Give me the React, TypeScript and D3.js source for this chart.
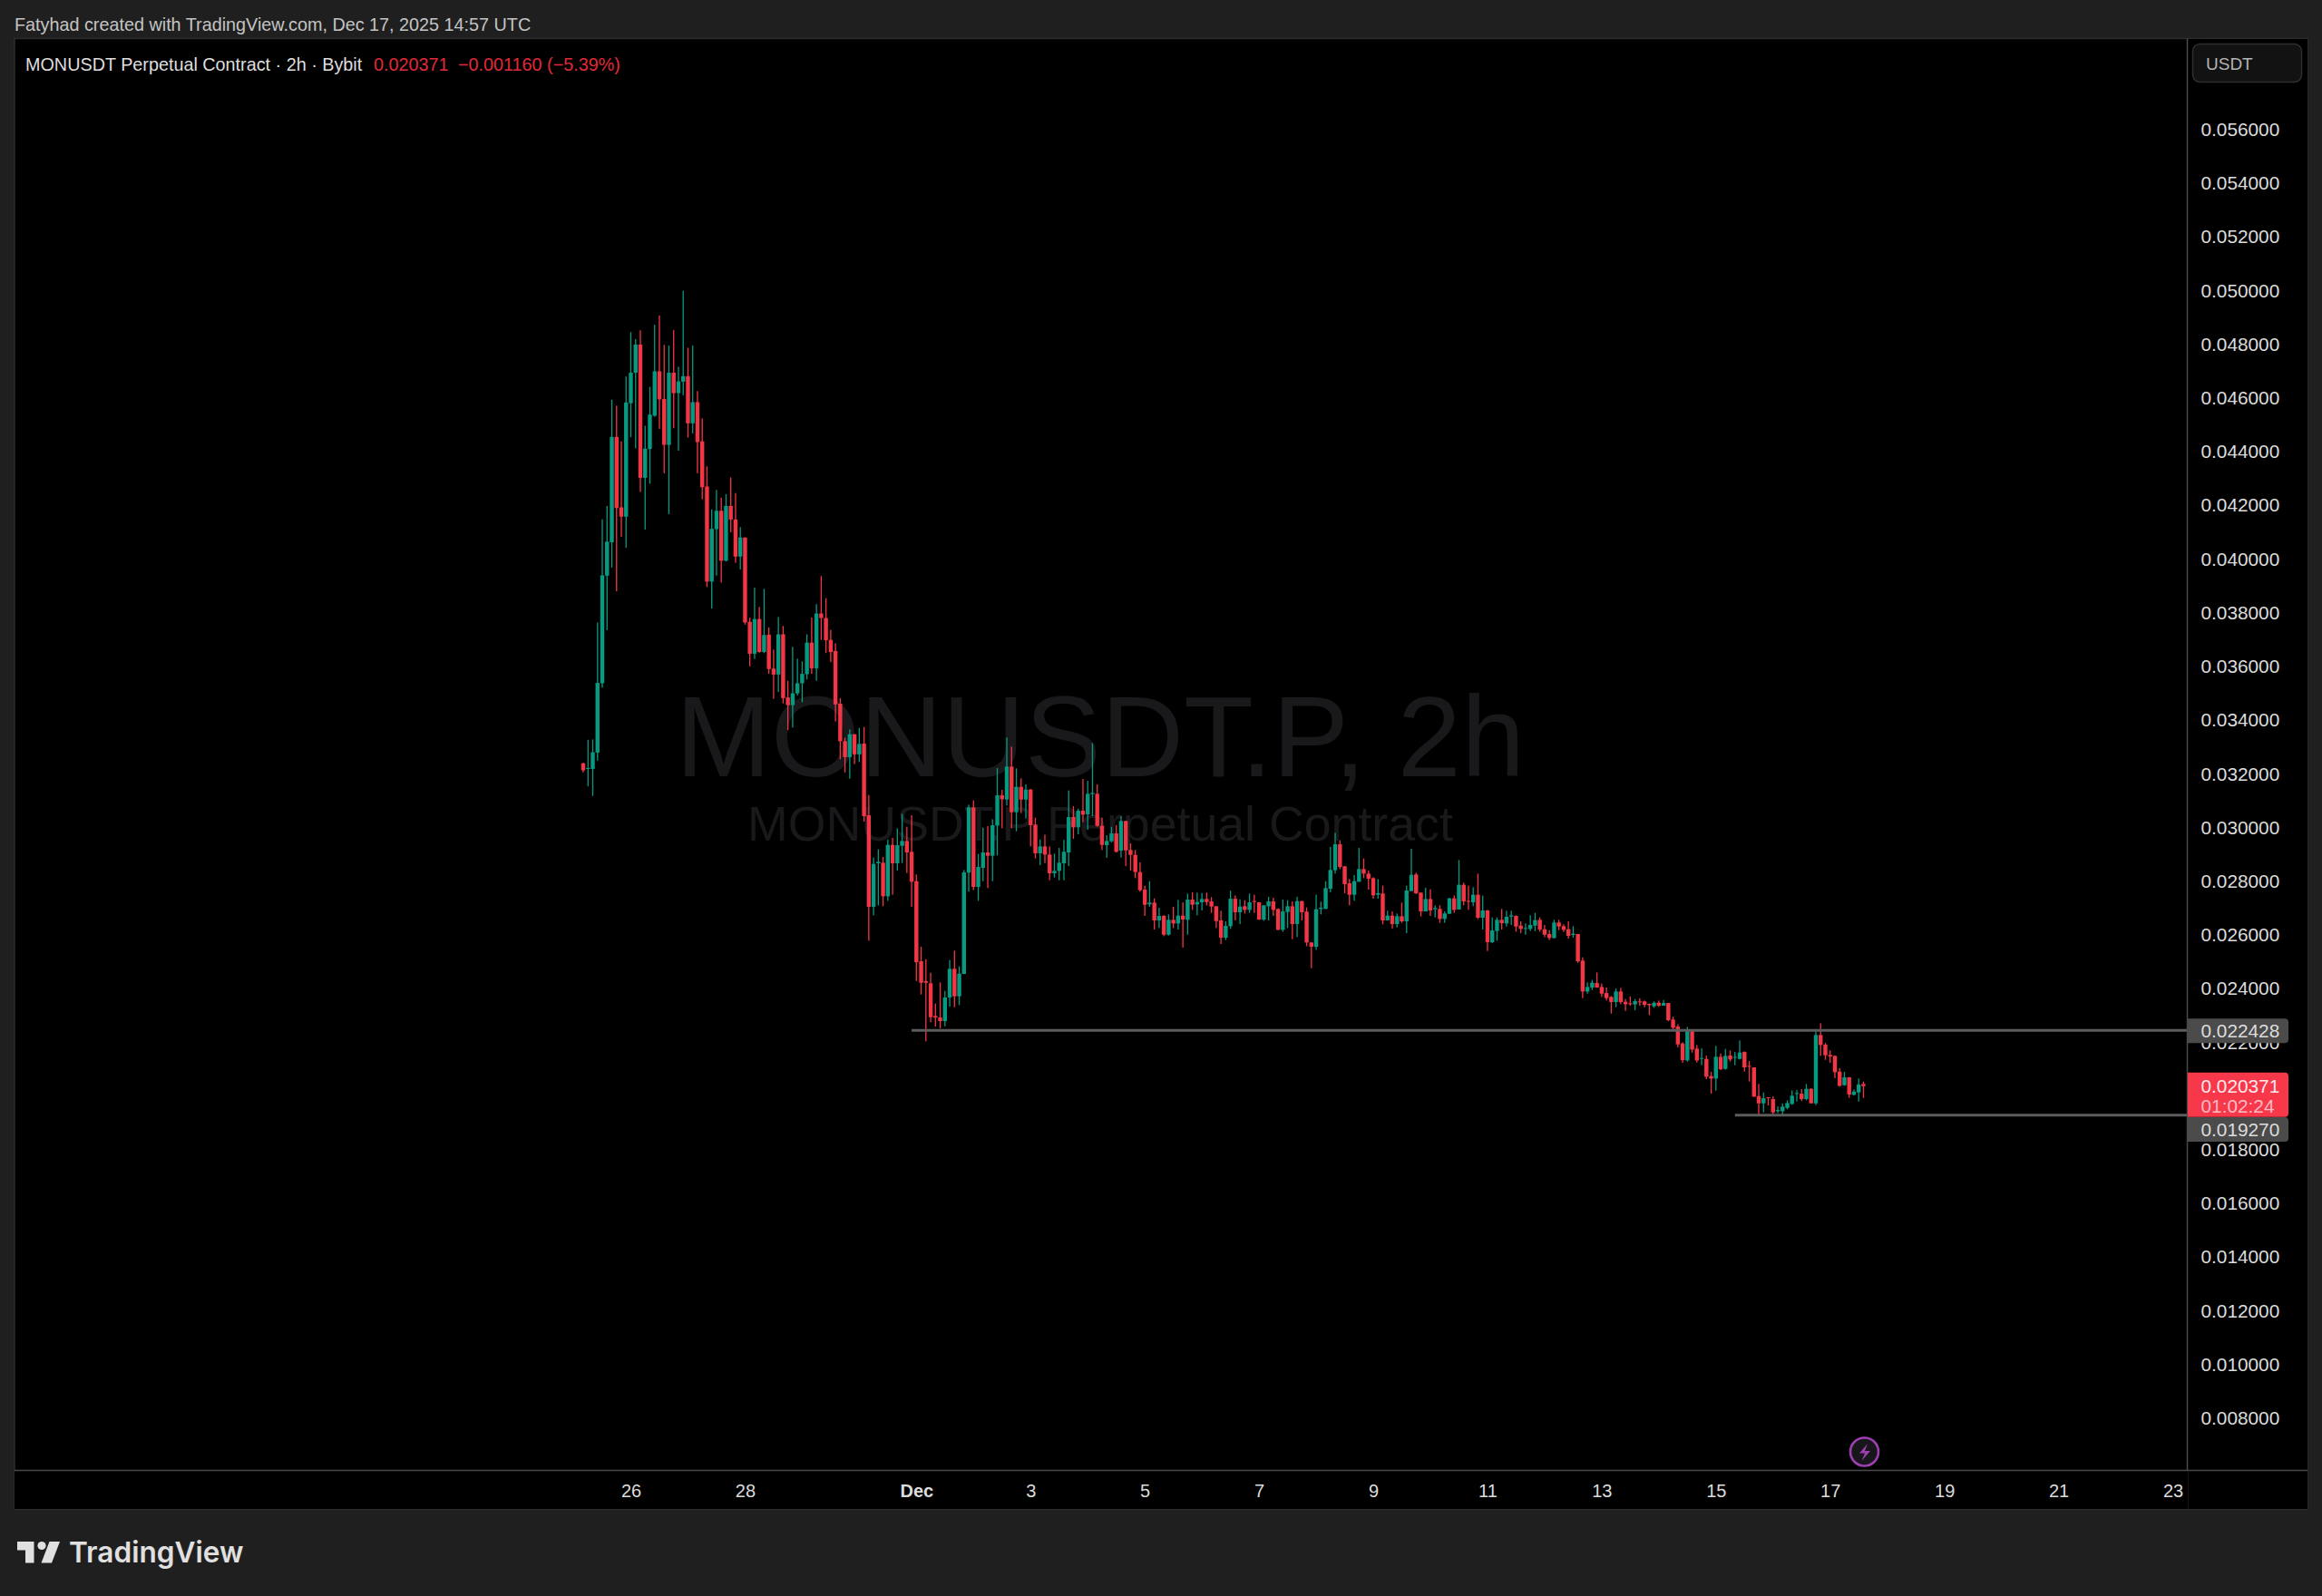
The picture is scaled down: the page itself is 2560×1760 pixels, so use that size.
import * as d3 from "d3";

const WIDTH = 2560;
const HEIGHT = 1760;

// prices in millionths of a USDT, one entry per 2h candle
const opens = [
  32394,32187,32187,32795,35380,39387,40628,44557,41933,41584,
  45811,46948,47995,43032,44105,45346,47000,45966,44260,46948,
  46186,46612,46819,45061,45850,44389,42709,39167,41119,41804,
  39943,41985,41481,40098,40809,37668,36478,37771,36543,37189,
  35923,35703,37202,34850,34565,35005,35380,35716,36892,35936,
  37978,37810,36995,36582,34617,33221,32626,33480,32730,33131,
  30462,27050,28672,28694,27444,29359,28672,29325,29505,29100,
  28007,25024,24280,24202,22986,22929,22794,23673,24742,23717,
  24551,28323,30755,27794,28503,29077,28953,30079,31205,31048,
  32275,30575,31521,31048,31419,30113,29044,29302,28998,28300,
  28390,28672,29077,30394,30012,30631,30496,31250,31262,30068,
  29347,29494,29786,29145,30248,29167,28987,28345,27692,27141,
  27208,26544,26713,26014,26566,26431,26724,26566,27321,27140,
  27219,27343,27253,27073,26544,25902,26330,27354,26848,27073,
  26938,27264,27219,26577,27073,27253,26972,26195,26859,27073,
  26409,27264,26870,25722,25564,26972,26972,27726,28413,29381,
  28559,27929,27501,27985,28458,28289,28120,27501,27546,26544,
  26724,26409,26701,26510,27636,28255,27580,26881,27343,26960,
  26972,26600,26791,27366,26949,27872,27275,27219,27501,26645,
  26915,25733,26150,26566,26431,26690,26712,26352,26228,26228,
  26352,26566,26217,26037,25891,26465,26330,26217,26003,26037,
  25046,23897,24044,24213,24066,23841,23694,23503,23897,23514,
  23458,23413,23526,23526,23436,23345,23481,23368,23469,22850,
  22591,21961,21330,22445,21769,21386,21386,20744,20654,21465,
  21015,21510,21431,21386,21645,21127,21071,20001,19731,19956,
  19889,19438,19438,19562,19709,20080,20091,19889,20272,19731,
  22276,21915,21532,21499,20913,20406,20699,20046,20137,20451,
];
const highs = [
  32420,33273,33286,37642,41481,41985,45940,45720,44389,46806,
  48461,48202,48525,44971,46419,48732,49081,47983,47957,48538,
  47168,50000,47879,47957,46263,45242,43458,41856,42579,42295,
  42424,43045,42463,41196,40809,37823,38934,38223,38896,37461,
  36634,37849,37512,35470,36737,36297,36194,37202,37823,38327,
  39374,38547,37370,36866,34824,33350,33660,33480,33712,33750,
  31217,28886,29190,28908,29561,29618,29978,30518,30034,30462,
  28255,25564,25102,24596,23447,24235,23920,25069,25418,24832,
  28424,30856,31014,29021,30000,30057,30316,32219,31408,33356,
  33018,32207,31836,31611,31442,30372,29561,29741,29302,29032,
  29246,29550,31385,30800,30710,31813,31746,33153,31611,30372,
  29719,30034,30091,30428,30260,29415,29167,28706,27839,28007,
  27366,27017,26746,26769,27050,27310,27219,27546,27591,27580,
  27568,27580,27411,27073,26904,26510,27658,27478,27332,27298,
  27546,27501,27231,27107,27422,27388,26994,27321,27298,27253,
  27422,27275,27028,25722,27501,27242,28007,29280,29809,29528,
  28570,28086,28233,29246,28852,28402,28154,28086,27839,26904,
  26881,26803,27208,27839,29212,28323,27580,27760,27703,27107,
  27107,26881,27388,27478,28796,27951,27839,27782,28289,27467,
  26938,26656,26656,26972,26904,26904,26735,26510,26431,26735,
  26825,26656,26375,26183,26566,26566,26397,26510,26330,26037,
  25170,24235,24325,24607,24190,24044,23728,24010,24032,23616,
  23717,23616,23649,23559,23447,23526,23559,23582,23469,22963,
  22681,22005,22580,22490,21904,21780,21510,20902,21870,21589,
  21758,21702,21645,22073,21668,21307,21071,20452,20136,19956,
  19990,19618,19731,19844,20215,20226,20260,20452,20294,22456,
  22715,21983,21702,21510,21049,20902,20710,20249,20654,20542,
];
const lows = [
  32058,31541,31179,32497,35212,37357,39684,38805,40835,40421,
  44544,44130,42502,41106,42812,45307,44854,43200,41675,44880,
  44040,46108,44531,44686,43200,42230,38960,38159,39387,39128,
  39917,41002,39865,39619,37564,36013,36284,36517,36500,35729,
  34798,35057,34630,33635,33725,34927,34669,35522,35729,35470,
  36995,36504,36168,33958,32549,32058,31825,32368,32445,30226,
  25789,26735,27107,27073,27276,27501,28402,28683,28311,27050,
  24292,23785,22040,22749,22591,22524,22603,23335,23312,23391,
  24551,27613,27670,27276,28007,27748,28007,28964,29978,30823,
  29978,29865,30541,30338,29302,28852,28604,28683,28041,28143,
  28041,28041,28570,29584,29753,30203,29922,30428,30034,29167,
  28874,29449,29077,28886,28570,28402,28120,27613,26713,27050,
  26206,26262,25958,25981,26262,26206,25530,26014,26938,26735,
  26915,27107,26825,26262,25665,25812,26228,26544,26408,26802,
  26825,26825,26566,26532,26544,26712,26183,26127,26262,25846,
  25924,26544,25586,24765,25451,26769,26972,27591,28289,28458,
  27557,27107,27276,27985,28120,27692,27354,27354,26397,26544,
  26240,26285,26454,26071,27636,27523,26690,26881,26712,26656,
  26454,26454,26791,26825,26949,27107,26938,27073,26600,26206,
  25406,25699,25789,26206,26318,26375,26127,26071,26014,26150,
  26150,26127,25924,25812,25868,26183,26116,25868,25902,24967,
  23650,23818,23954,24044,23694,23559,23075,23312,23424,23177,
  23368,23199,23368,23312,23019,23289,23323,23368,22794,22433,
  21814,21240,21285,21623,21251,21150,20632,20091,20204,20969,
  20992,21285,21150,21364,20913,20542,19979,19314,19393,19652,
  19314,19370,19303,19506,19675,19798,19821,19844,19731,19664,
  21499,21352,21240,20666,20350,20384,19934,20035,19798,19934,
];
const closes = [
  32135,32226,32807,35393,39400,40653,44557,41907,41584,45837,
  46948,47995,43032,44118,45385,47000,45953,44260,46948,46186,
  46625,46819,45061,45850,44363,42683,39167,41132,41804,39943,
  41985,41481,40098,40809,37642,36478,37771,36543,37176,35910,
  35703,37202,34824,34565,35005,35380,35729,36892,35936,37978,
  37810,36982,36543,34591,33221,32626,33480,32730,33118,30428,
  27050,28649,28728,27444,29359,28672,29347,29505,29077,27985,
  24990,24224,24224,22940,22929,22794,23673,24742,23717,24562,
  28334,30755,27794,28537,29077,28953,30091,31205,31059,32275,
  30575,31521,31048,31419,30091,29044,29302,28998,28300,28390,
  28694,29100,30394,30012,30631,30485,31262,31295,30068,29359,
  29505,29786,29100,30248,29156,28987,28345,27670,27129,27208,
  26544,26713,26014,26566,26431,26724,26577,27321,27129,27231,
  27343,27231,27062,26521,25902,26341,27354,26848,27062,26938,
  27219,27231,26577,27107,27253,26938,26195,26881,27073,26409,
  27264,26848,25722,25564,26960,27017,27749,28424,29381,28537,
  27895,27501,28007,28458,28289,28098,27478,27557,26544,26724,
  26409,26701,26510,27658,28244,27557,26881,27343,26915,27005,
  26600,26803,27366,26938,27872,27253,27242,27501,26645,26915,
  25733,26172,26566,26442,26679,26735,26318,26228,26262,26375,
  26555,26206,26014,25891,26465,26318,26195,25969,26048,25024,
  23898,24066,24224,24044,23818,23649,23503,23897,23503,23424,
  23424,23537,23492,23402,23390,23481,23368,23469,22827,22546,
  21927,21341,22456,21735,21330,21420,20722,20654,21465,21003,
  21499,21364,21465,21623,21071,21093,19979,19731,19922,19922,
  19393,19483,19607,19742,20013,20114,19889,20272,19731,22276,
  21904,21521,21476,20891,20384,20699,20058,20170,20429,20371,
];

const priceTicks = [
  8000, 10000, 12000, 14000, 16000, 18000, 20000, 22000, 24000, 26000, 28000, 30000, 32000,
  34000, 36000, 38000, 40000, 42000, 44000, 46000, 48000, 50000, 52000, 54000, 56000,
];
const timeTickDates = [
  "2025-11-26", "2025-11-28", "2025-12-01", "2025-12-03", "2025-12-05", "2025-12-07",
  "2025-12-09", "2025-12-11", "2025-12-13", "2025-12-15", "2025-12-17", "2025-12-19",
  "2025-12-21", "2025-12-23",
];
const firstCandle = new Date(Date.UTC(2025, 10, 25, 4));
const resistance = { price: 22428, from: new Date(Date.UTC(2025, 10, 30, 22)) };
const support = { price: 19270, from: new Date(Date.UTC(2025, 11, 15, 8)) };
const lastPrice = 20371;

const GREEN = "#089981";
const RED = "#f23645";
const SANS = "'Liberation Sans', Arial, sans-serif";

const x = d3
  .scaleUtc()
  .domain([new Date(Date.UTC(2025, 10, 26)), new Date(Date.UTC(2025, 11, 23))])
  .range([695.5, 2395.5]);
const y = d3.scaleLinear().domain([8000, 56000]).range([1564, 143]);

const priceLabel = (v: number) => (v / 1e6).toFixed(6);

const candles = opens.map((open, i) => ({
  time: d3.utcHour.offset(firstCandle, i * 2),
  open,
  high: highs[i],
  low: lows[i],
  close: closes[i],
}));

const PriceBadge = ({ cy, label }: { cy: number; label: string }) => (
  <g>
    <path
      d={`M2412 ${cy - 13.5}h107a4 4 0 0 1 4 4v19a4 4 0 0 1 -4 4h-107z`}
      fill="#4b4b4b"
    />
    <text x={2426.5} y={cy + 7} fill="#dcdcdc" fontSize={20.8} fontFamily={SANS}>
      {label}
    </text>
  </g>
);

const App = () => {
  const lastY = y(lastPrice);
  return (
    <svg
      width={WIDTH}
      height={HEIGHT}
      style={{ position: "absolute", left: 0, top: 0, display: "block" }}
    >
      <rect width={WIDTH} height={HEIGHT} fill="#1f1f1f" />
      <text x={16} y={34} fill="#c4c4c4" fontSize={19.8} fontFamily={SANS}>
        Fatyhad created with TradingView.com, Dec 17, 2025 14:57 UTC
      </text>

      {/* panes */}
      <rect x={16} y={42.5} width={2528} height={1622} fill="#000" stroke="#2c2c2c" strokeWidth={1.5} />

      {/* watermark */}
      <text x={1213} y={855.5} textAnchor="middle" fill="#19191b" fontSize={126} fontFamily={SANS}>
        MONUSDT.P, 2h
      </text>
      <text x={1213} y={926.5} textAnchor="middle" fill="#19191b" fontSize={53.7} fontFamily={SANS}>
        MONUSDT.P Perpetual Contract
      </text>

      {/* candles */}
      <g>
        {candles.map((d, i) => {
          const color = d.close >= d.open ? GREEN : RED;
          const top = y(Math.max(d.open, d.close));
          const bottom = y(Math.min(d.open, d.close));
          return (
            <g key={i} fill={color}>
              <rect x={x(d.time) - 0.65} width={1.3} y={y(d.high)} height={y(d.low) - y(d.high)} />
              <rect x={x(d.time) - 2.2} width={4.4} y={top} height={Math.max(bottom - top, 1)} />
            </g>
          );
        })}
      </g>

      {/* horizontal levels */}
      {[resistance, support].map((lvl) => (
        <line
          key={lvl.price}
          x1={x(lvl.from)}
          x2={2412}
          y1={y(lvl.price) - 0.6}
          y2={y(lvl.price) - 0.6}
          stroke="#5c5c5c"
          strokeWidth={3}
        />
      ))}

      {/* legend */}
      <text x={28} y={77.5} fill="#dedede" fontSize={19.8} fontFamily={SANS}>
        MONUSDT Perpetual Contract · 2h · Bybit
      </text>
      <text x={412} y={77.5} fill="#e0293a" fontSize={19.8} fontFamily={SANS}>
        0.020371
      </text>
      <text x={505} y={77.5} fill="#e0293a" fontSize={19.8} fontFamily={SANS}>
        −0.001160 (−5.39%)
      </text>

      {/* price axis */}
      <rect x={2412} y={43} width={132} height={1621} fill="#000" />
      <line x1={2411.5} x2={2411.5} y1={42.5} y2={1664} stroke="#4a4a4a" strokeWidth={1.5} />
      <rect x={2417.5} y={48.5} width={120} height={42} rx={8} fill="#121212" stroke="#2f2f2f" strokeWidth={1.5} />
      <text x={2432} y={77} fill="#b4b4b4" fontSize={19} fontFamily={SANS}>
        USDT
      </text>
      {priceTicks.map((v) => (
        <text key={v} x={2426.5} y={y(v) + 7} fill="#dcdcdc" fontSize={20.8} fontFamily={SANS}>
          {priceLabel(v)}
        </text>
      ))}
      <PriceBadge cy={y(resistance.price)} label={priceLabel(resistance.price)} />
      <path
        d={`M2412 ${lastY - 15}h107a4 4 0 0 1 4 4v41a4 4 0 0 1 -4 4h-107z`}
        fill="#f7374a"
      />
      <text x={2426.5} y={lastY + 7} fill="#ffeaec" fontSize={20.8} fontFamily={SANS}>
        {priceLabel(lastPrice)}
      </text>
      <text x={2426.5} y={lastY + 29.5} fill="#ffbcc3" fontSize={20.8} fontFamily={SANS}>
        01:02:24
      </text>
      <PriceBadge cy={1245.5} label={priceLabel(support.price)} />

      {/* time axis */}
      <rect x={16} y={1622} width={2396} height={42} fill="#000" />
      <line x1={16} x2={2544} y1={1621.5} y2={1621.5} stroke="#4a4a4a" strokeWidth={1.5} />
      {timeTickDates.map((t) => {
        const date = new Date(t + "T00:00:00Z");
        const isMonth = date.getUTCDate() === 1;
        return (
          <text
            key={t}
            x={x(date) + 0.5}
            y={1651}
            textAnchor="middle"
            fill="#dcdcdc"
            fontSize={20}
            fontWeight={isMonth ? 700 : 400}
            fontFamily={SANS}
          >
            {isMonth ? d3.utcFormat("%b")(date) : d3.utcFormat("%-d")(date)}
          </text>
        );
      })}

      {/* session marker */}
      <circle cx={2055.5} cy={1601} r={15.5} fill="#17171b" stroke="#9c3eb0" strokeWidth={2.6} />
      <path d="M2059 1592l-9 10.5h6l-3.5 8.5 9.5-11h-6l3-8z" fill="#9c3eb0" />

      {/* footer logo */}
      <g fill="#e0e0e0">
        <path d="M19 1700h18.5v23.5h-9.5v-14h-9z" />
        <circle cx={46} cy={1704.5} r={4.6} />
        <path d="M54.5 1700h11.5l-9 23.5h-11.5z" />
        <text x={76} y={1723} fontSize={31.6} fontWeight={600} fontFamily="Inter, 'Liberation Sans', sans-serif">
          TradingView
        </text>
      </g>
    </svg>
  );
};

export default App;
